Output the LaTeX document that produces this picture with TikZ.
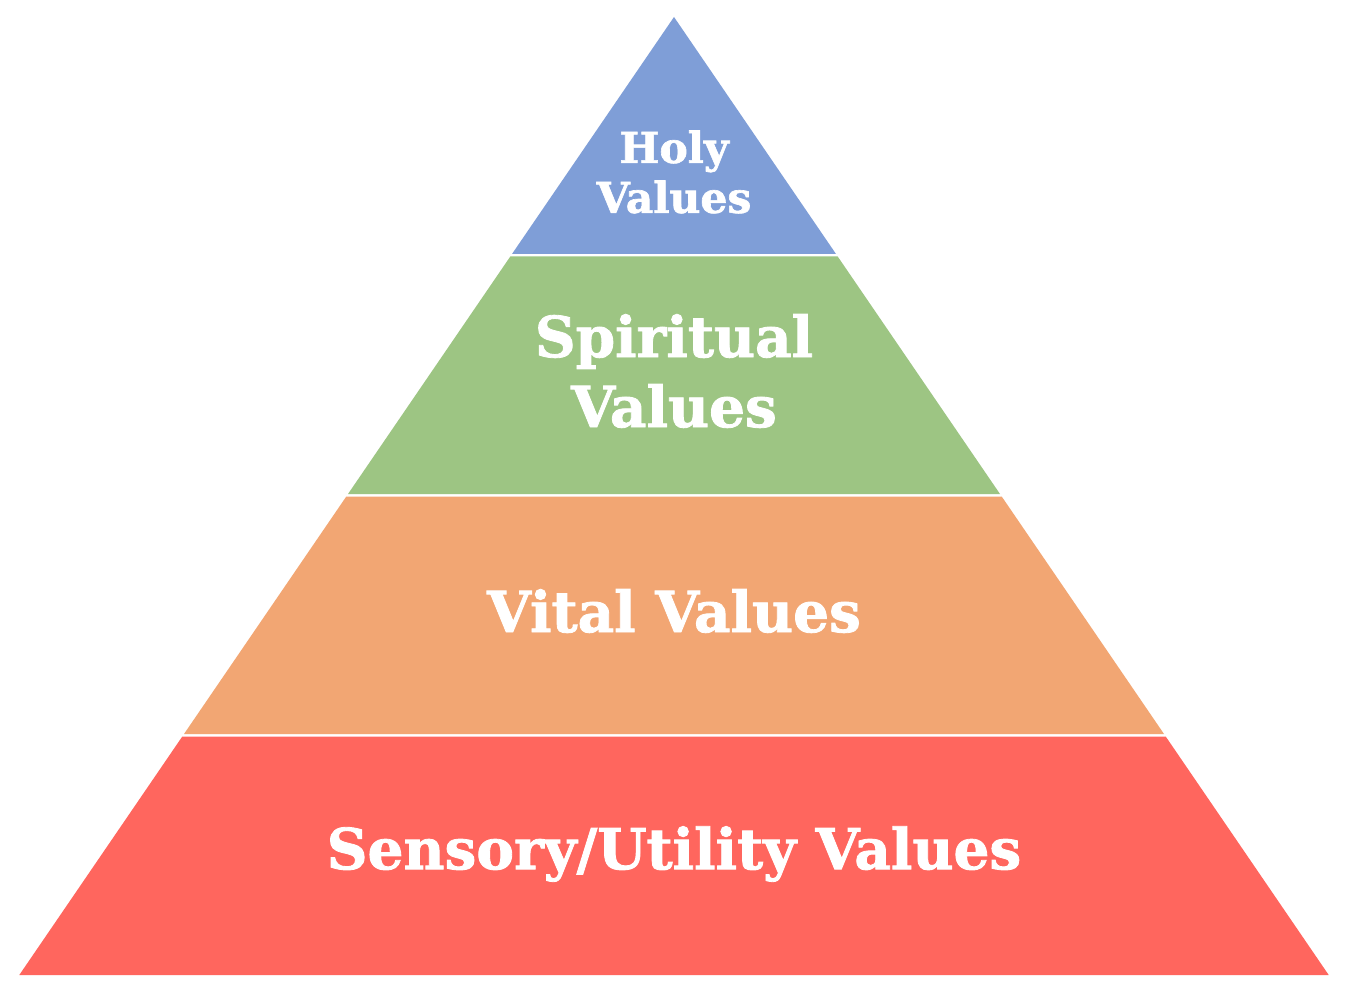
\documentclass[tikz,border=0pt]{standalone}
\usepackage{fontspec}
\setmainfont{DejaVu Serif}[BoldFeatures={FakeBold=1.5}]
\definecolor{holyblue}{RGB}{127,158,215}
\definecolor{spiritgreen}{RGB}{157,197,131}
\definecolor{vitalorange}{RGB}{242,166,115}
\definecolor{sensoryred}{RGB}{255,102,94}
\begin{document}
\begin{tikzpicture}[x=1pt,y=-1pt,
  biglabel/.style={text=white,font=\fontsize{56.5}{70}\selectfont\bfseries,align=center,inner sep=0pt},
  smalllabel/.style={text=white,font=\fontsize{42.5}{50}\selectfont\bfseries,align=center,inner sep=0pt}]
\useasboundingbox (0,0) rectangle (1352,1000);
\fill[white] (0,0) rectangle (1352,1000);
\fill[holyblue] (674,17) -- (836.0,254) -- (512.0,254) -- cycle;
\fill[spiritgreen] (510.3,256.5) -- (837.7,256.5) -- (1000.0,494) -- (348.0,494) -- cycle;
\fill[vitalorange] (346.3,496.5) -- (1001.7,496.5) -- (1164.0,734) -- (184.0,734) -- cycle;
\fill[sensoryred] (182.3,736.5) -- (1165.7,736.5) -- (1328.7,975) -- (19.3,975) -- cycle;
\node[smalllabel] (holy) at (674,172) {Holy\\Values};
\node[biglabel] (spiritual) at (674,371) {Spiritual\\Values};
\node[biglabel] (vital) at (674,611) {Vital Values};
\node[biglabel] (sensory) at (674,854) {Sensory/Utility Values};
\end{tikzpicture}
\end{document}
